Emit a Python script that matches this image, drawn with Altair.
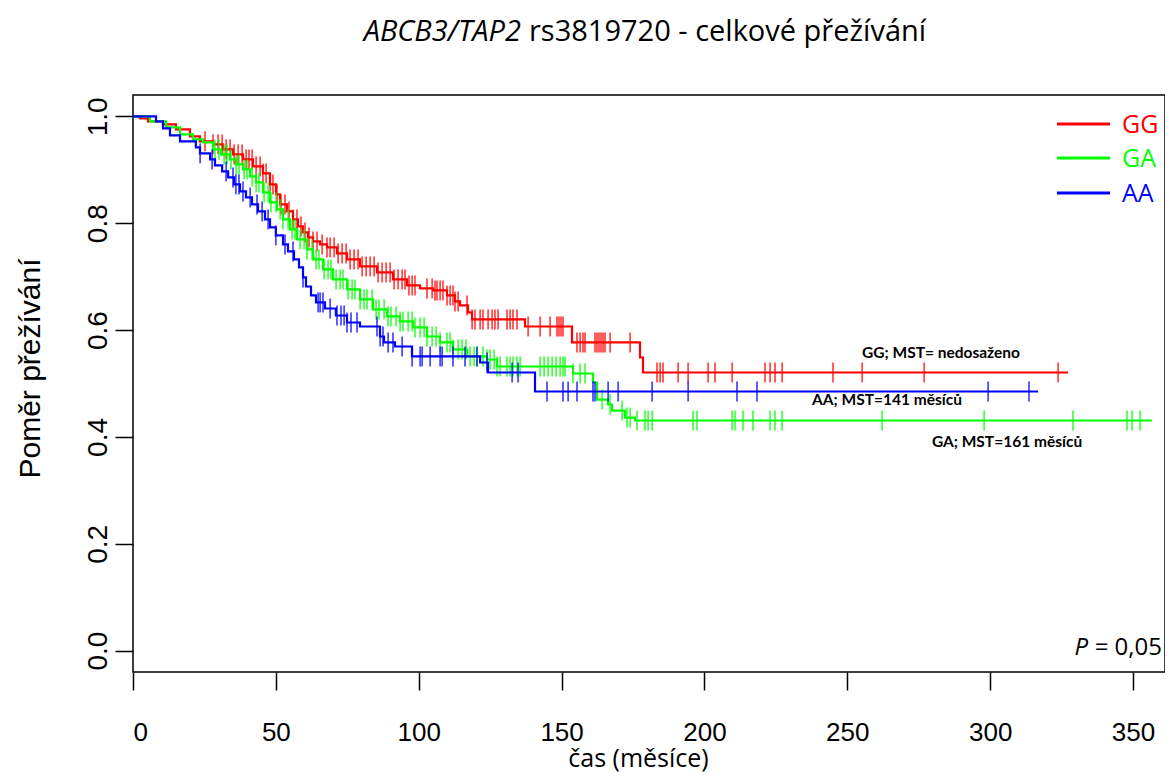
import altair as alt
import pandas as pd
import numpy as np

# ---------------- data ----------------
groups = ["GG", "GA", "AA"]
colors = ["#FF0000", "#00FF00", "#0000FF"]

# Kaplan-Meier step points (time in months, survival proportion)
gg_t = [0, 2.45, 5.25, 10.5, 15.05, 19.95, 23.45, 28, 31.5, 35, 38.5, 42, 45.5, 47.95,
        50.05, 51.45, 53.9, 56, 57.75, 59.5, 61.25, 63, 65.45, 67.9, 71.4, 74.9, 79.45,
        85.4, 91, 95.9, 100.45, 105, 109.9, 112.7, 114.45, 117.25, 118.65, 137.2, 153.65,
        177.45, 178.5]
gg_s = [1.0, 0.9963, 0.9906, 0.985, 0.9757, 0.9625, 0.9532, 0.9476, 0.9382, 0.9288, 0.9195,
        0.9064, 0.8933, 0.8727, 0.8539, 0.8352, 0.8221, 0.8071, 0.794, 0.7828, 0.7734,
        0.7659, 0.7603, 0.7547, 0.7434, 0.7322, 0.7191, 0.7079, 0.6948, 0.6835, 0.6779,
        0.6742, 0.6648, 0.6536, 0.6461, 0.633, 0.6199, 0.6067, 0.5768, 0.5487, 0.5206]
gg_end = 327.3

ga_t = [0, 5.95, 11.55, 16.45, 21, 24.5, 28, 30.8, 33.95, 36.05, 38.5, 40.95, 43.05, 45.5,
        47.95, 50.4, 52.5, 54.95, 57.4, 60.9, 63, 66.5, 70, 74.9, 79.45, 84, 88.9, 93.45, 98,
        102.9, 107.45, 112, 116.9, 123.9, 127.4, 154, 161, 162.4, 166.25, 167.65, 172.2, 175.7]
ga_s = [1.0, 0.9906, 0.9794, 0.9663, 0.9569, 0.9513, 0.9382, 0.9288, 0.9195, 0.9101, 0.9007,
        0.8876, 0.8764, 0.8577, 0.839, 0.8258, 0.8071, 0.7884, 0.7697, 0.7509, 0.7322, 0.7135,
        0.6948, 0.676, 0.6573, 0.6386, 0.6255, 0.6161, 0.6049, 0.588, 0.5768, 0.5637, 0.5506,
        0.5449, 0.5318, 0.5187, 0.5019, 0.47, 0.4607, 0.4494, 0.4363, 0.4307]
ga_end = 356.6

aa_t = [0, 8.05, 10.5, 12.95, 16.45, 22, 23.45, 27, 28.7, 31.2, 33.3, 35.35, 37.45, 39.55,
        41.65, 43.75, 46.2, 47.95, 50, 52.5, 54.25, 56.35, 58.1, 59.5, 60.55, 62.3, 64.05,
        67.2, 71, 74.9, 79.45, 86.45, 87.85, 91.7, 97.65, 121.5, 124.25, 140.7]
aa_s = [1.0, 0.9906, 0.9775, 0.9644, 0.9532, 0.942, 0.9307, 0.9195, 0.9082, 0.897, 0.8858,
        0.8727, 0.8596, 0.8483, 0.8352, 0.8221, 0.8071, 0.7921, 0.7772, 0.7603, 0.7472,
        0.7322, 0.7172, 0.6985, 0.6816, 0.6648, 0.6517, 0.6404, 0.6273, 0.6142, 0.6067,
        0.588, 0.5768, 0.5693, 0.5506, 0.5393, 0.5206, 0.485]
aa_end = 316.8

# censored observation times (months)
gg_cens = [25.2, 28, 29.8, 31.2, 32.6, 34, 35.4, 36.8, 38.2, 39.6, 40.6, 41.7, 43.1, 44.5, 45.5,
           46.6, 48, 49, 50.4, 51.8, 53.2, 54.6, 56, 57.4, 58.8, 60.2, 61.6, 63, 64.4, 66.2,
           67.9, 69, 70.4, 71.8, 73.2, 74.6, 76, 77.4, 78.8, 80.2, 81.6, 83, 84.4, 85.8, 87.2,
           88.6, 90, 91.4, 92.8, 94.2, 95.2, 96.6, 97.7, 98.7, 102.9, 104.7, 105.7, 106.4,
           107.5, 108.5, 109.9, 111, 112, 112.7, 113.8, 116.9, 118.7, 119.7, 121.5, 122.5,
           124.3, 125.7, 126.7, 127.8, 130.9, 132, 133, 134.4, 138.3, 142.5, 146, 148.4,
           149.1, 149.8, 150.5, 155.4, 156.5, 157.5, 158.2, 161.7, 162.4, 163.1, 163.8, 164.5,
           165.2, 167, 174, 183.4, 184.5, 185.5, 190.8, 194.3, 201.3, 203.7, 209.7, 221.2,
           223, 224.7, 227.2, 245, 255.2, 276.9, 323.8]
ga_cens = [28.7, 30.1, 31.9, 32.9, 34.3, 36.1, 37.1, 38.9, 39.9, 41.7, 43.1, 44.1, 45.9, 47.3,
           48.3, 50.1, 51.5, 52.5, 54.3, 55.7, 56.7, 58.5, 59.9, 60.9, 62.7, 64.1, 65.1, 66.9,
           68.3, 69.3, 71.1, 72.5, 73.5, 75.3, 76.7, 77.7, 79.5, 80.9, 81.9, 83.7, 85.1, 86.1,
           87.9, 89.3, 90.3, 92.1, 93.5, 94.5, 96.3, 97.7, 98.7, 100.5, 101.9, 102.9, 104.7,
           106.1, 107.5, 109.9, 111, 112, 113.8, 115.2, 116.6, 118, 119.4, 120.4, 122.5, 123.9,
           125, 126.4, 127.4, 128.5, 130.9, 132, 133, 134.4, 135.5, 142.5, 143.9, 145.3, 146.7,
           148.1, 149.5, 150.5, 151.2, 154, 156.5, 158.2, 164.2, 167, 171.2, 172.9, 174, 176.4,
           179.2, 180.3, 181.7, 196, 197.4, 209.7, 210.7, 213.5, 217, 223, 224.7, 227.2, 262.2,
           297.9, 329, 347.9, 349.7, 352.5]
aa_cens = [23.5, 27.7, 32.6, 35, 36, 37.1, 38.5, 41, 43.4, 45.2, 47.3, 50, 53.2, 56, 59.5, 64.8,
           65.5, 66.5, 69, 71.4, 72.8, 73.9, 74.9, 76.3, 78.4, 85.4, 86.5, 87.5, 89.3, 91, 94.2,
           97.7, 100.5, 101.2, 104, 107.5, 108.2, 112, 116.2, 120.4, 123.9, 132.7, 134.8,
           144.9, 150.5, 152.3, 155.4, 161, 161.7, 166.3, 169.8, 181.7, 194.3, 211.4, 218.4,
           299.3, 313.6]

legend_labels = ["GG", "GA", "AA"]
mst_labels = ["GG; MST= nedosaženo", "GA; MST=161 měsíců", "AA; MST=141 měsíců"]
x_ticks = [0, 50, 100, 150, 200, 250, 300, 350]
y_ticks = [0.0, 0.2, 0.4, 0.6, 0.8, 1.0]

# ---------------- build tables ----------------
series = {
    "GG": (gg_t, gg_s, gg_end, gg_cens),
    "GA": (ga_t, ga_s, ga_end, ga_cens),
    "AA": (aa_t, aa_s, aa_end, aa_cens),
}

line_rows, cens_rows = [], []
for g in groups:
    t, s, end, cens = series[g]
    for ti, si in zip(t, s):
        line_rows.append({"group": g, "t": ti, "S": si})
    line_rows.append({"group": g, "t": end, "S": s[-1]})
    ta = np.array(t)
    for c in cens:
        idx = int(np.searchsorted(ta, c, side="right")) - 1
        cens_rows.append({"group": g, "t": c, "S": s[idx]})

lines_df = pd.DataFrame(line_rows)
cens_df = pd.DataFrame(cens_rows)

W, H = 1032, 577
xscale = alt.Scale(domain=[0, 361.2], nice=False, zero=False)
yscale = alt.Scale(domain=[-0.04, 1.04], nice=False, zero=False)

xaxis = alt.Axis(values=x_ticks, tickSize=18, tickWidth=1.5, tickColor="black", domain=False,
                 grid=False, labelFont="Liberation Sans", labelFontSize=26, labelColor="black",
                 labelPadding=29, title="čas (měsíce)", titleFont="Open Sans",
                 titleFontSize=25, titleFontWeight="normal", titleColor="black",
                 titleX=505, titleY=94, titleAlign="center", titleBaseline="alphabetic")
yaxis = alt.Axis(values=y_ticks, format=".1f", tickSize=18, tickWidth=1.5, tickColor="black",
                 domain=False, grid=False, labelFont="Liberation Sans", labelFontSize=28,
                 labelColor="black", labelAngle=270, labelAlign="center", labelBaseline="bottom",
                 labelPadding=3, title="Poměr přežívání", titleFont="Liberation Sans",
                 titleFontSize=30, titleFontWeight="normal", titleColor="black",
                 titleX=-103, titleY=273, titleAngle=270, titleAlign="center",
                 titleBaseline="middle")

layers = []
first = True
for g, col in zip(groups, colors):
    ld = lines_df[lines_df.group == g]
    cd = cens_df[cens_df.group == g]
    if first:
        xenc = alt.X("t:Q", scale=xscale, axis=xaxis)
        yenc = alt.Y("S:Q", scale=yscale, axis=yaxis)
        first = False
    else:
        xenc = alt.X("t:Q", scale=xscale)
        yenc = alt.Y("S:Q", scale=yscale)
    layers.append(alt.Chart(ld).mark_line(interpolate="step-after", strokeWidth=2.2, color=col)
                  .encode(x=xenc, y=yenc))
    layers.append(alt.Chart(cd).mark_tick(orient="vertical", size=20, thickness=1.8, color=col)
                  .encode(x=alt.X("t:Q", scale=xscale), y=alt.Y("S:Q", scale=yscale)))

# legend (top right)
leg_y = [29, 63, 98]
for lab, col, yy in zip(legend_labels, colors, leg_y):
    d = pd.DataFrame({"label": [lab]})
    layers.append(alt.Chart(d).mark_rule(color=col, strokeWidth=3)
                  .encode(x=alt.value(924), x2=alt.value(977), y=alt.value(yy)))
    layers.append(alt.Chart(d).mark_text(align="left", baseline="middle", font="Open Sans",
                                         fontSize=25, color=col)
                  .encode(text="label:N", x=alt.value(989), y=alt.value(yy + 1)))

# MST annotations
mst_pos = [(808, 258), (874, 347), (754, 305)]
for lab, (xx, yy) in zip(mst_labels, mst_pos):
    d = pd.DataFrame({"label": [lab]})
    layers.append(alt.Chart(d).mark_text(align="center", baseline="middle", font="Lato",
                                         fontWeight="bold", fontSize=15.5, color="black")
                  .encode(text="label:N", x=alt.value(xx), y=alt.value(yy)))

# P value
d = pd.DataFrame({"a": ["P"], "b": ["= 0,05"]})
layers.append(alt.Chart(d).mark_text(align="right", baseline="middle", font="Open Sans",
                                     fontStyle="italic", fontSize=24, color="black")
              .encode(text="a:N", x=alt.value(955), y=alt.value(553)))
layers.append(alt.Chart(d).mark_text(align="right", baseline="middle", font="Open Sans",
                                     fontSize=24, color="black")
              .encode(text="b:N", x=alt.value(1029), y=alt.value(553)))

# title (italic gene part + normal rest)
t = pd.DataFrame({"a": ["ABCB3/TAP2"], "b": ["rs3819720 - celkové přežívání"]})
layers.append(alt.Chart(t).mark_text(align="right", baseline="middle", font="Open Sans",
                                     fontStyle="italic", fontSize=29, color="black")
              .encode(text="a:N", x=alt.value(388), y=alt.value(-63)))
layers.append(alt.Chart(t).mark_text(align="left", baseline="middle", font="Open Sans",
                                     fontSize=29, color="black")
              .encode(text="b:N", x=alt.value(396), y=alt.value(-63)))

chart = (alt.layer(*layers)
         .properties(width=W, height=H,
                     autosize=alt.AutoSizeParams(type="none"),
                     padding={"left": 125, "top": 87, "right": 0, "bottom": 102})
         .configure(background="white")
         .configure_view(stroke="black", strokeWidth=1.5))

chart.save("out.html", embed_options={"renderer": "svg", "actions": False})
